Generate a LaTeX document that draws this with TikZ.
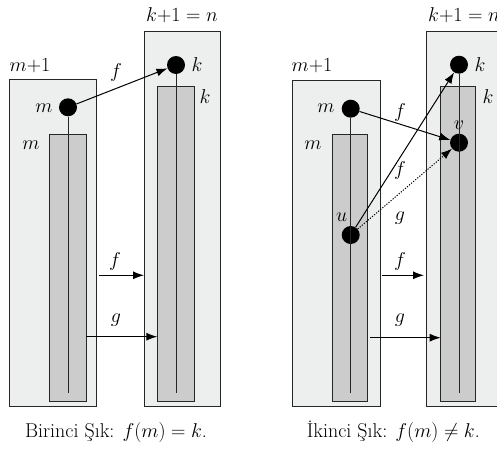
\RequirePackage{fix-cm}
\documentclass[tikz,border=0pt]{standalone}
\usepackage{fontspec}
\usetikzlibrary{arrows.meta}
\definecolor{outerc}{RGB}{237,238,238}
\definecolor{innerc}{RGB}{204,204,204}
\begin{document}
\begin{tikzpicture}[x=1pt,y=-1pt,
  font=\fontsize{20}{24}\selectfont,
  outer/.style={draw=black!85, fill=outerc, line width=0.9pt},
  inner/.style={draw=black!85, fill=innerc, line width=0.9pt},
  dot/.style={circle, fill=black, inner sep=0pt, minimum size=18pt},
  axis/.style={draw=black!85, line width=0.8pt},
  arr/.style={-{Latex[length=11pt,width=8pt]}, line width=1pt},
  darr/.style={-{Latex[length=11pt,width=8pt]}, line width=1pt, dash pattern=on 1.2pt off 1.5pt},
  lbl/.style={inner sep=0pt}]
\useasboundingbox (0,0) rectangle (497,450);

% ---------- left panel ----------
\draw[outer] (9.3,79.3) rectangle (96,406);
\draw[inner] (49.3,134.7) rectangle (86,401.3);
\draw[outer] (144,31.3) rectangle (220,406);
\draw[inner] (157.3,86) rectangle (194,401.3);
\node[dot] (m1) at (68,107.3) {};
\node[dot] (k1) at (176,65) {};
\coordinate (m1b) at (68,393.3);
\coordinate (k1b) at (176,393.3);
\draw[axis] (m1) -- (m1b);
\draw[axis] (k1) -- (k1b);
\node[lbl] (lm1a) at (30,66) {$m{+}1$};
\node[lbl] (lk1a) at (182,15) {$k{+}1 = n$};
\node[lbl] (lm1) at (44,108) {$m$};
\node[lbl] (lm1r) at (31,145) {$m$};
\node[lbl] (lk1) at (197,65) {$k$};
\node[lbl] (lk1r) at (205,97) {$k$};
\draw[arr] (m1) -- (k1);
\node[lbl] (lf1) at (116,72) {$f$};
\coordinate (fa1s) at (98.7,275.3);
\coordinate (fa1e) at (144,275.3);
\draw[arr] (fa1s) -- (fa1e);
\node[lbl] (lf1b) at (115,261) {$f$};
\coordinate (ga1s) at (86,336.7);
\coordinate (ga1e) at (157.3,336.7);
\draw[arr] (ga1s) -- (ga1e);
\node[lbl] (lg1b) at (116,320) {$g$};
\node[lbl] (cap1) at (116,432) {Birinci Şık: $f(m) = k$.};

% ---------- right panel ----------
\draw[outer] (292,80) rectangle (380.7,406);
\draw[inner] (332,134.7) rectangle (367.3,401.3);
\draw[outer] (426,31.3) rectangle (502,406);
\draw[inner] (440.7,86) rectangle (475,401.3);
\node[dot] (m2) at (350.7,108.7) {};
\node[dot] (k2) at (459,64.7) {};
\node[dot] (v2) at (459,142.7) {};
\node[dot] (u2) at (350.7,235) {};
\coordinate (m2b) at (350.7,393.3);
\coordinate (k2b) at (459,393.3);
\draw[axis] (m2) -- (m2b);
\draw[axis] (k2) -- (k2b);
\node[lbl] (lm2a) at (312,66) {$m{+}1$};
\node[lbl] (lk2a) at (464,15) {$k{+}1 = n$};
\node[lbl] (lm2) at (326,108) {$m$};
\node[lbl] (lm2r) at (313,145) {$m$};
\node[lbl] (lk2) at (480,65) {$k$};
\node[lbl] (lk2r) at (488,97) {$k$};
\node[lbl] (lv2) at (459,125) {$v$};
\node[lbl] (lu2) at (341.7,217) {$u$};
\draw[arr] (m2) -- (v2);
\draw[arr] (u2) -- (k2);
\draw[darr] (u2) -- (v2);
\node[lbl] (lf2a) at (400,112) {$f$};
\node[lbl] (lf2b) at (400,170) {$f$};
\node[lbl] (lg2a) at (400,218) {$g$};
\coordinate (fa2s) at (381.7,275.3);
\coordinate (fa2e) at (424,275.3);
\draw[arr] (fa2s) -- (fa2e);
\node[lbl] (lf2c) at (400,261) {$f$};
\coordinate (ga2s) at (370,337.7);
\coordinate (ga2e) at (440.7,337.7);
\draw[arr] (ga2s) -- (ga2e);
\node[lbl] (lg2c) at (400,320) {$g$};
\node[lbl] (cap2) at (393.3,432) {İkinci Şık: $f(m) \neq k$.};
\end{tikzpicture}
\end{document}
